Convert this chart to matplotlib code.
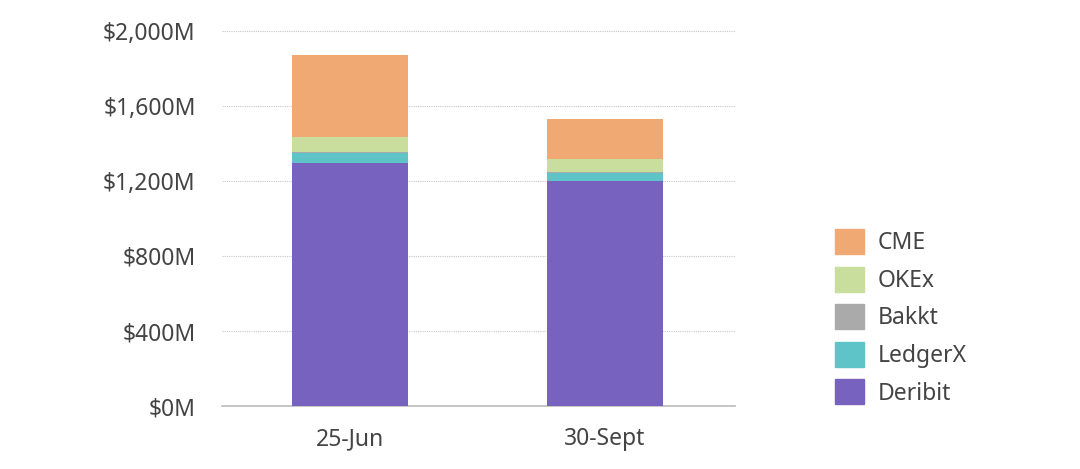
import matplotlib.pyplot as plt
from matplotlib.patches import Patch
from matplotlib.ticker import FuncFormatter

# values in $M
dates = ["25-Jun", "30-Sept"]
deribit = [1298, 1202]
ledgerx = [53, 42]
bakkt = [3, 2]
okex = [80, 72]
cme = [437, 213]

series = ["Deribit", "LedgerX", "Bakkt", "OKEx", "CME"]
colors = {"Deribit": "#7862BF", "LedgerX": "#5EC4C8", "Bakkt": "#AAAAAA",
          "OKEx": "#C9DD9C", "CME": "#F0A973"}
values = {"Deribit": deribit, "LedgerX": ledgerx, "Bakkt": bakkt,
          "OKEx": okex, "CME": cme}

plt.rcParams['font.family'] = ['Noto Sans', 'DejaVu Sans']
text_col = "#444444"

fig = plt.figure(figsize=(10.8, 4.69), dpi=100)
ax = fig.add_axes([0.2056, 0.1343, 0.475, 0.7997])

x = range(len(dates))
bottom = [0] * len(dates)
for s in series:
    ax.bar(x, values[s], width=0.455, bottom=bottom, color=colors[s], zorder=3)
    bottom = [b + v for b, v in zip(bottom, values[s])]

ax.set_ylim(0, 2000)
ax.set_xlim(-0.5, 1.51)
ax.set_yticks([0, 400, 800, 1200, 1600, 2000])
ax.yaxis.set_major_formatter(FuncFormatter(lambda v, p: f"${v:,.0f}M"))
ax.set_xticks(list(x))
ax.set_xticklabels(dates)
ax.tick_params(length=0, labelsize=16.5, colors=text_col)
ax.tick_params(axis='y', pad=19)
ax.tick_params(axis='x', pad=15)

ax.grid(axis='y', color="#c8c8c8", linestyle=(0, (1, 1)), linewidth=0.8, zorder=0)
for sp in ["top", "right", "left"]:
    ax.spines[sp].set_visible(False)
ax.spines["bottom"].set_color("#bbbbbb")
ax.spines["bottom"].set_linewidth(1.2)

handles = [Patch(color=colors[s], label=s) for s in reversed(series)]
fig.legend(handles=handles, loc="upper left", bbox_to_anchor=(835 / 1080, 1 - 229 / 469),
           frameon=False, fontsize=16.5, handlelength=1.25, handleheight=1.3,
           handletextpad=0.6, labelspacing=0.5, borderpad=0, borderaxespad=0,
           labelcolor=text_col)

fig.savefig("out.png", dpi=100)
